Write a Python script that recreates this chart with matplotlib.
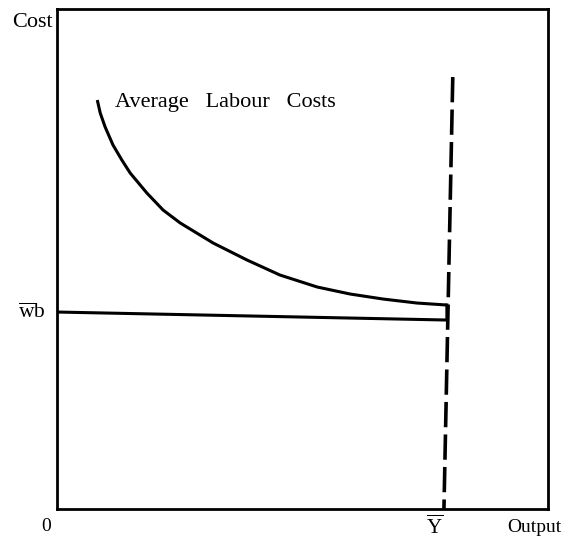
#!/usr/bin/env python3

from matplotlib import pyplot as plt
import matplotlib

# Average labour cost curve (output, cost)
alc_x = [8.2, 8.8, 9.8, 11.4, 13.2, 14.9, 18.3, 21.6, 25.1, 31.8, 38.7, 45.4,
         53.0, 59.7, 66.4, 73.3, 79.4]
alc_y = [81.8, 79.2, 76.4, 72.8, 69.8, 67.2, 63.2, 59.8, 57.2, 53.2, 49.8, 46.8,
         44.4, 43.0, 42.0, 41.2, 40.8]

# wb line (slightly sloped in the drawing) and the short link up to the curve
wb_x = [0.0, 79.4, 79.4]
wb_y = [39.4, 37.8, 40.8]

# capacity output Y-bar (dashed), top and bottom end
ybar_x = [80.6, 78.8]
ybar_y = [86.4, 0.0]


def setup():
    matplotlib.rcParams.update({
        "font.family": ["Liberation Serif", "DejaVu Serif"],
        "mathtext.fontset": "custom",
        "mathtext.rm": "Liberation Serif",
        "mathtext.it": "Liberation Serif:italic",
    })


def main():
    setup()
    fig = plt.figure(figsize=(5.72, 5.41), dpi=100)
    ax = fig.add_axes([0.0997, 0.0591, 0.8584, 0.9242])

    ax.plot(alc_x, alc_y, color="black", lw=2.2, solid_capstyle="butt",
            solid_joinstyle="round")
    ax.plot(wb_x, wb_y, color="black", lw=2.2)
    ax.plot(ybar_x, ybar_y, color="black", lw=2.6, dashes=(7, 2))

    ax.set_xlim(0, 100)
    ax.set_ylim(0, 100)
    ax.set_xticks([])
    ax.set_yticks([])
    for s in ax.spines.values():
        s.set_linewidth(2.0)

    ax.text(11.8, 80.4, "Average   Labour   Costs", fontsize=16, va="baseline")
    ax.text(-0.8, 97.4, "Cost", fontsize=16, ha="right", va="center", clip_on=False)
    ax.text(-2.4, 39.2, r"$\overline{\mathrm{w}}\mathrm{b}$", fontsize=15.5,
            ha="right", va="center", clip_on=False)
    ax.text(-2.2, -1.8, "0", fontsize=14, ha="center", va="top", clip_on=False)
    ax.text(76.8, -1.2, r"$\overline{\mathrm{Y}}$", fontsize=15,
            ha="center", va="top", clip_on=False)
    ax.text(91.6, -3.6, "Output", fontsize=14, ha="left", va="center", clip_on=False)

    fig.savefig("out.png", dpi=100)


if __name__ == "__main__":
    main()
